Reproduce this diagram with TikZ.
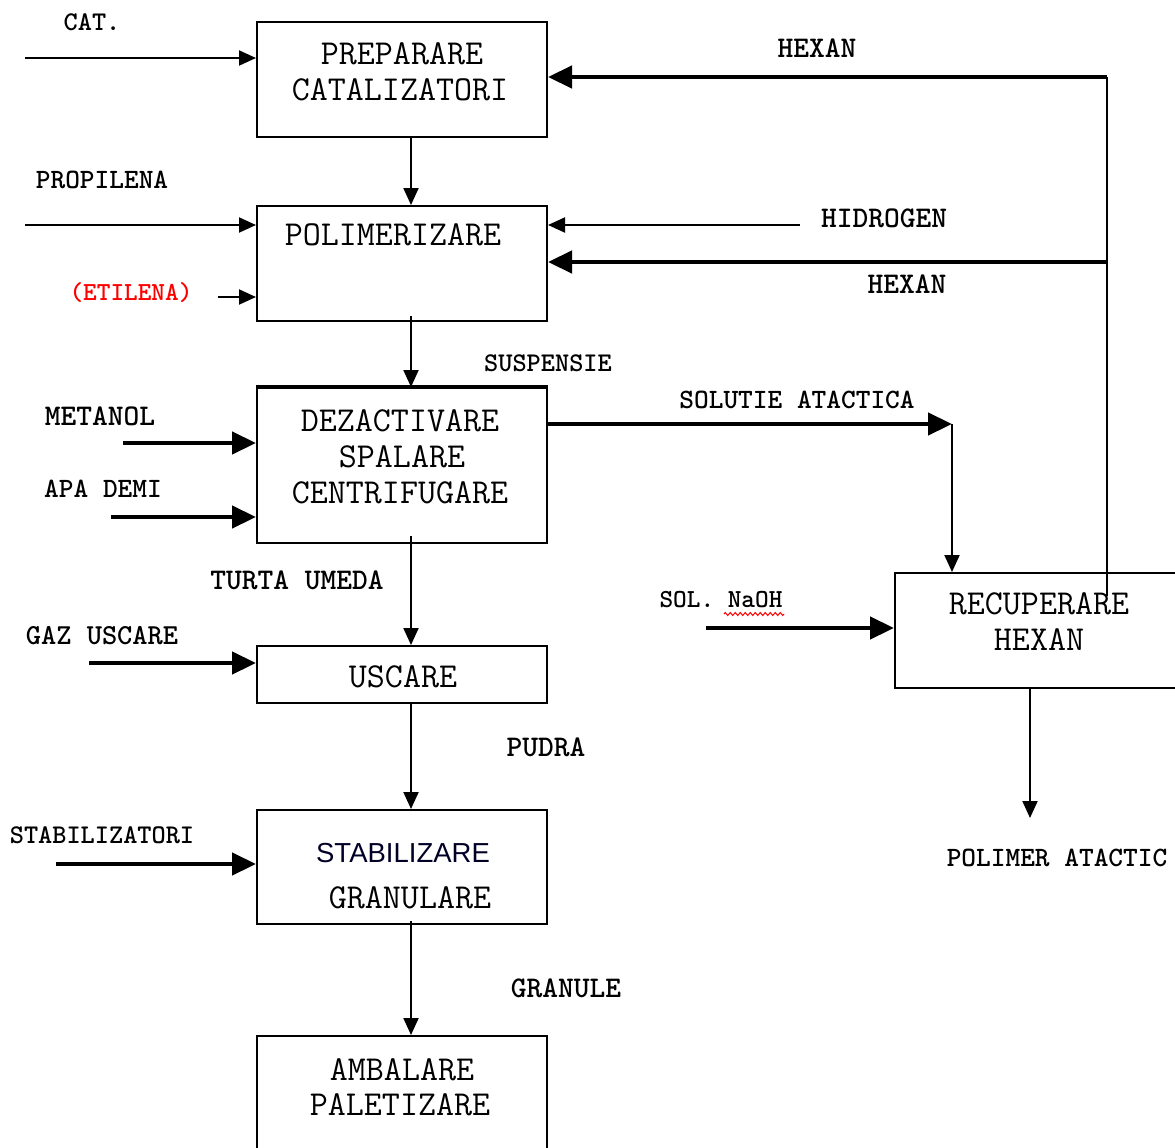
\documentclass[tikz,border=0pt]{standalone}
\usepackage{fontspec}
\newfontfamily\arialf{Liberation Sans}
\usetikzlibrary{arrows.meta,decorations.pathmorphing}
\newcommand\tfs[1]{\fontsize{#1}{#1}\selectfont\ttfamily}
\begin{document}
\begin{tikzpicture}[x=1pt,y=-1pt,
  box/.style={draw, line width=2pt, inner sep=0pt, minimum width=290pt},
  bt/.style={font=\tfs{35}, inner sep=0pt},
  lab/.style={font=\tfs{#1}\bfseries, inner sep=0pt},
  tarr/.style={line width=2pt, -{Triangle[length=17pt,width=15pt]}},
  karr/.style={line width=4.5pt, -{Triangle[length=24pt,width=22pt]}},
  plain/.style={line width=2pt}]
\clip (0,0) rectangle (1175,1148);
\fill[white] (0,0) rectangle (1175,1148);
% boxes
\node[box, minimum height=115pt] (b1) at (402,79.5) {};
\node[box, minimum height=115pt] (b2) at (402,263.5) {};
\node[box, minimum height=155pt] (b3) at (402,465.5) {};
\node[box, minimum height=57pt] (b4) at (402,674.5) {};
\node[box, minimum height=114pt] (b5) at (402,867) {};
\node[box, minimum height=134pt] (b6) at (402,1103) {};
\node[box, minimum height=115pt] (b7) at (1040,630.5) {};
\draw[line width=4pt] (b3.north west) -- (b3.north east);
% box texts
\node[bt] (t1a) at (402,54) {PREPARARE};
\node[bt] (t1b) at (400,90) {CATALIZATORI};
\node[bt] (t2) at (393,235) {POLIMERIZARE};
\node[bt] (t3a) at (400,421) {DEZACTIVARE};
\node[bt] (t3b) at (402,457) {SPALARE};
\node[bt] (t3c) at (400,493) {CENTRIFUGARE};
\node[bt] (t4) at (403,677) {USCARE};
\node[inner sep=0pt, font=\fontsize{27.5}{28}\selectfont\arialf, text=black!85!blue] (t5a) at (403,853) {STABILIZARE};
\node[bt] (t5b) at (410,898) {GRANULARE};
\node[bt] (t6a) at (402,1070) {AMBALARE};
\node[bt] (t6b) at (400,1105) {PALETIZARE};
\node[bt] (t7a) at (1039,604) {RECUPERARE};
\node[bt] (t7b) at (1039,640) {HEXAN};
% labels
\node[lab=27] (lcat) at (92,22) {CAT.};
\node[lab=28] (lprop) at (102,180) {PROPILENA};
\node[lab=26, text=red] (letil) at (131,293) {(ETILENA)};
\node[lab=30] (lhex1) at (817,48) {HEXAN};
\node[lab=30] (lhid) at (884,218) {HIDROGEN};
\node[lab=30] (lhex2) at (907,284) {HEXAN};
\node[lab=27] (lsusp) at (548,363) {SUSPENSIE};
\node[lab=30] (lmet) at (100,416) {METANOL};
\node[lab=28] (lapa) at (103,489) {APA DEMI};
\node[lab=28] (lsol) at (797,400) {SOLUTIE ATACTICA};
\node[lab=30] (lturta) at (297,580) {TURTA UMEDA};
\node[lab=29] (lgaz) at (102,636) {GAZ USCARE};
\node[lab=26] (lnaoh) at (721,600) {SOL. NaOH};
\node[lab=30] (lpud) at (546,747) {PUDRA};
\node[lab=27] (lstab) at (102,835) {STABILIZATORI};
\node[lab=30] (lgran) at (566,988) {GRANULE};
\node[lab=28] (lpol) at (1057,858) {POLIMER ATACTIC};
\draw[red, line width=1pt, decorate, decoration={zigzag, amplitude=1.5pt, segment length=5pt}] (724,614) -- (784,614);
% coordinates
\coordinate (cat0) at (25,58);
\coordinate (prop0) at (25,225);
\coordinate (etil0) at (218,297);
\coordinate (met0) at (123,443);
\coordinate (apa0) at (111,517);
\coordinate (gaz0) at (89,663);
\coordinate (stab0) at (56,864);
\coordinate (h1) at (1107,77);
\coordinate (h2) at (1107,262);
\coordinate (hend) at (1107,596);
\coordinate (hid0) at (800,225);
\coordinate (sol1) at (952,424);
\coordinate (naoh0) at (706,628);
\coordinate (pol1) at (1030,818);
% left inputs
\draw[tarr] (cat0) -- (cat0 -| b1.west);
\draw[tarr] (prop0) -- (prop0 -| b2.west);
\draw[tarr] (etil0) -- (etil0 -| b2.west);
\draw[karr] (met0) -- (met0 -| b3.west);
\draw[karr] (apa0) -- (apa0 -| b3.west);
\draw[karr] (gaz0) -- (gaz0 -| b4.west);
\draw[karr] (stab0) -- (stab0 -| b5.west);
% hexan recycle
\draw[plain] (hend) -- (h1);
\draw[karr] (h1) -- (h1 -| b1.east);
\draw[karr] (h2) -- (h2 -| b2.east);
\draw[tarr] (hid0) -- (hid0 -| b2.east);
% solutie atactica
\draw[karr] (sol1 -| b3.east) -- (sol1);
\draw[tarr] (sol1) -- (sol1 |- b7.north);
\draw[karr] (naoh0) -- (naoh0 -| b7.west);
\draw[tarr] (pol1 |- b7.south) -- (pol1);
% main vertical chain
\draw[tarr] ([xshift=9pt]b1.south) -- ([xshift=9pt]b2.north);
\draw[tarr] ([xshift=9pt,yshift=6pt]b2.south) -- ([xshift=9pt]b3.north);
\draw[tarr] ([xshift=9pt,yshift=8pt]b3.south) -- ([xshift=9pt]b4.north);
\draw[tarr] ([xshift=9pt]b4.south) -- ([xshift=9pt]b5.north);
\draw[tarr] ([xshift=9pt,yshift=4pt]b5.south) -- ([xshift=9pt]b6.north);
\end{tikzpicture}
\end{document}
